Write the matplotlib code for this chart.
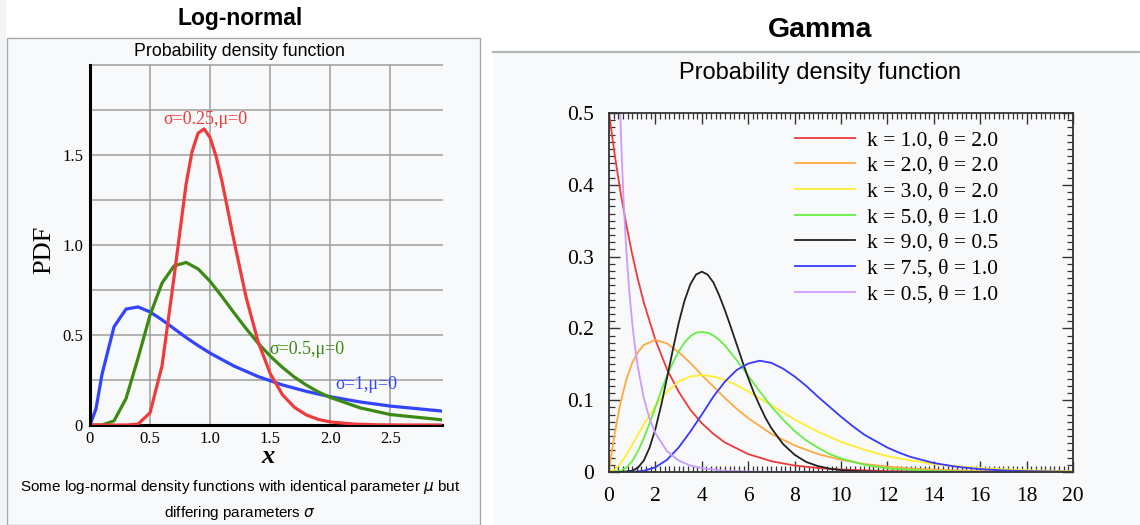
import matplotlib
matplotlib.use("Agg")
import matplotlib.pyplot as plt
from matplotlib.patches import Rectangle
from matplotlib.lines import Line2D
from matplotlib.ticker import MultipleLocator, FixedLocator

W, H = 1140, 525

# ---------------- Log-normal data ----------------
ln_x_s025 = [0, 0.3, 0.4, 0.5, 0.6, 0.7, 0.8, 0.85, 0.9, 0.95, 1.0, 1.05, 1.1, 1.2, 1.3, 1.4,
             1.5, 1.6, 1.7, 1.8, 1.9, 2.0, 2.2, 2.4, 2.6, 3.0]
ln_y_s025 = [0, 0.0, 0.005, 0.068, 0.330, 0.824, 1.339, 1.520, 1.622, 1.645, 1.596, 1.491, 1.349,
             1.019, 0.708, 0.461, 0.286, 0.170, 0.099, 0.056, 0.031, 0.017, 0.005, 0.001, 0.0, 0.0]
ln_x_s05 = [0, 0.1, 0.2, 0.3, 0.4, 0.5, 0.6, 0.7, 0.8, 0.9, 1.0, 1.1, 1.2, 1.3, 1.4, 1.5, 1.6,
            1.7, 1.8, 1.9, 2.0, 2.25, 2.5, 3.0]
ln_y_s05 = [0, 0.0, 0.023, 0.147, 0.372, 0.611, 0.789, 0.884, 0.903, 0.867, 0.798, 0.712, 0.622,
            0.535, 0.454, 0.383, 0.321, 0.267, 0.222, 0.184, 0.153, 0.095, 0.058, 0.024]
ln_x_s1 = [0, 0.05, 0.1, 0.2, 0.3, 0.4, 0.5, 0.6, 0.7, 0.8, 0.9, 1.0, 1.2, 1.4, 1.6, 1.8, 2.0,
           2.25, 2.5, 3.0]
ln_y_s1 = [0, 0.090, 0.282, 0.546, 0.644, 0.656, 0.628, 0.584, 0.535, 0.486, 0.441, 0.399, 0.327,
           0.269, 0.223, 0.187, 0.157, 0.128, 0.105, 0.073]
ln_labels = ["σ=0.25,μ=0", "σ=0.5,μ=0", "σ=1,μ=0"]
ln_xticks = [0, 0.5, 1.0, 1.5, 2.0, 2.5]
ln_xticklabels = ["0", "0.5", "1.0", "1.5", "2.0", "2.5"]
ln_yticks = [0, 0.5, 1.0, 1.5]
ln_yticklabels = ["0", "0.5", "1.0", "1.5"]

# ---------------- Gamma data ----------------
g_x_a = [0, 0.25, 0.5, 0.75, 1, 1.25, 1.5, 2, 2.5, 3, 3.5, 4, 4.5, 5, 6, 7, 8, 9, 10, 12, 14,
         16, 20]
g_y_a = [0.5, 0.441, 0.389, 0.344, 0.303, 0.268, 0.236, 0.184, 0.143, 0.112, 0.087, 0.068,
         0.053, 0.041, 0.025, 0.015, 0.009, 0.0056, 0.0034, 0.0012, 0.0005, 0.0002, 0.0]
g_x_b = [0, 0.1, 0.25, 0.5, 0.75, 1, 1.25, 1.5, 2, 2.5, 3, 3.5, 4, 4.5, 5, 5.5, 6, 7, 8, 9, 10,
         11, 12, 13, 14, 16, 18, 20]
g_y_b = [0, 0.024, 0.055, 0.097, 0.129, 0.152, 0.167, 0.177, 0.184, 0.179, 0.167, 0.152, 0.135,
         0.119, 0.103, 0.088, 0.075, 0.053, 0.037, 0.025, 0.017, 0.0112, 0.0074, 0.0049, 0.0032,
         0.0013, 0.0006, 0.0002]
g_x_c = [0, 0.25, 0.5, 0.75, 1, 1.25, 1.5, 2, 2.5, 3, 3.5, 4, 4.5, 5, 5.5, 6, 7, 8, 9, 10, 11,
         12, 13, 14, 16, 18, 20]
g_y_c = [0, 0.0034, 0.012, 0.024, 0.038, 0.052, 0.066, 0.092, 0.112, 0.126, 0.133, 0.135,
         0.133, 0.128, 0.121, 0.112, 0.093, 0.073, 0.056, 0.042, 0.031, 0.022, 0.016, 0.011,
         0.0054, 0.0025, 0.0011]
g_x_d = [0, 0.5, 0.75, 1, 1.25, 1.5, 1.75, 2, 2.25, 2.5, 2.75, 3, 3.25, 3.5, 3.75, 4, 4.25,
         4.5, 4.75, 5, 5.5, 6, 6.5, 7, 7.5, 8, 8.5, 9, 9.5, 10, 11, 12, 14, 16, 20]
g_y_d = [0, 0.0016, 0.0062, 0.015, 0.029, 0.047, 0.068, 0.090, 0.113, 0.134, 0.152, 0.168,
         0.180, 0.189, 0.194, 0.195, 0.194, 0.190, 0.184, 0.176, 0.156, 0.134, 0.112, 0.091,
         0.073, 0.057, 0.044, 0.034, 0.025, 0.019, 0.010, 0.005, 0.0013, 0.0003, 0.0]
g_x_e = [0, 0.5, 1, 1.25, 1.5, 1.75, 2, 2.25, 2.5, 2.75, 3, 3.25, 3.5, 3.75, 4, 4.25, 4.5,
         4.75, 5, 5.25, 5.5, 5.75, 6, 6.25, 6.5, 6.75, 7, 7.5, 8, 8.5, 9, 9.5, 10, 11, 12, 20]
g_y_e = [0, 0.0, 0.0017, 0.0062, 0.016, 0.034, 0.060, 0.093, 0.131, 0.170, 0.207, 0.238,
         0.261, 0.275, 0.279, 0.275, 0.264, 0.246, 0.225, 0.202, 0.178, 0.154, 0.131, 0.110,
         0.092, 0.075, 0.061, 0.039, 0.024, 0.014, 0.0083, 0.0047, 0.0026, 0.0008, 0.0002, 0.0]
g_x_f = [0, 1, 1.5, 2, 2.5, 3, 3.5, 4, 4.5, 5, 5.5, 6, 6.5, 7, 7.5, 8, 8.5, 9, 9.5, 10, 10.5,
         11, 11.5, 12, 12.5, 13, 14, 15, 16, 17, 18, 20]
g_y_f = [0, 0.0002, 0.0017, 0.0065, 0.017, 0.034, 0.056, 0.080, 0.105, 0.126, 0.142, 0.151,
         0.155, 0.152, 0.144, 0.133, 0.120, 0.105, 0.091, 0.077, 0.064, 0.052, 0.043, 0.034,
         0.027, 0.021, 0.0125, 0.0072, 0.0040, 0.0022, 0.0012, 0.0003]
g_x_g = [0.2, 0.3, 0.4, 0.45, 0.5, 0.55, 0.6, 0.65, 0.7, 0.75, 0.8, 0.9, 1, 1.1, 1.25, 1.5,
         1.75, 2, 2.5, 3, 3.5, 4, 5, 6, 8, 20]
g_y_g = [1.033, 0.763, 0.598, 0.536, 0.484, 0.439, 0.400, 0.365, 0.335, 0.308, 0.284, 0.242,
         0.208, 0.179, 0.145, 0.103, 0.074, 0.054, 0.029, 0.016, 0.0091, 0.0052, 0.0017,
         0.0006, 0.0001, 0.0]
g_labels = ["k = 1.0, θ = 2.0", "k = 2.0, θ = 2.0", "k = 3.0, θ = 2.0", "k = 5.0, θ = 1.0",
            "k = 9.0, θ = 0.5", "k = 7.5, θ = 1.0", "k = 0.5, θ = 1.0"]
g_colors = ["#ee3a3a", "#ffa940", "#ffee33", "#66ee44", "#222222", "#3838ff", "#c99cff"]
g_xticks = [0, 2, 4, 6, 8, 10, 12, 14, 16, 18, 20]
g_yticks = [0, 0.1, 0.2, 0.3, 0.4, 0.5]
g_yticklabels = ["0", "0.1", "0.2", "0.3", "0.4", "0.5"]


def fx(px):
    return px / W


def fy(py):
    return 1 - py / H


def rect(l, t, r, b):
    return [fx(l), fy(b), (r - l) / W, (b - t) / H]


fig = plt.figure(figsize=(W / 100, H / 100), dpi=100)
fig.patch.set_facecolor("white")

PANEL = "#f8f9fa"
BORDER = "#a2a9b1"
# left panel box
fig.patches.append(Rectangle((fx(0), 0), fx(6), 1, transform=fig.transFigure,
                             facecolor="#f3f4f5", edgecolor="none", zorder=-10))
fig.patches.append(Rectangle((fx(7), fy(525)), (480 - 7) / W, (525 - 38) / H,
                             transform=fig.transFigure, facecolor=PANEL,
                             edgecolor=BORDER, linewidth=1.0, zorder=-10))
# right panel background
fig.patches.append(Rectangle((fx(493), 0), 1 - fx(493), fy(52), transform=fig.transFigure,
                             facecolor=PANEL, edgecolor="none", zorder=-10))
fig.add_artist(Line2D([fx(493), 1], [fy(52), fy(52)], transform=fig.transFigure,
                      color="#b5b8bb", linewidth=1.6, zorder=-9))

sans = ["Liberation Sans", "DejaVu Sans"]
serif = ["Liberation Serif", "DejaVu Serif"]

fig.text(fx(240), fy(19), "Log-normal", ha="center", va="center", fontsize=16.5,
         fontweight="bold", family=sans)
fig.text(fx(239), fy(51), "Probability density function", ha="center", va="center",
         fontsize=12.8, family=sans)
fig.text(fx(820), fy(30), "Gamma", ha="center", va="center", fontsize=20.5,
         fontweight="bold", family=sans)
fig.text(fx(820), fy(73), "Probability density function", ha="center", va="center",
         fontsize=17, family=sans)
fig.text(fx(240), fy(487), "Some log-normal density functions with identical parameter $\\mu$ but",
         ha="center", va="center", fontsize=11, family=sans)
fig.text(fx(240), fy(513), "differing parameters $\\sigma$", ha="center", va="center",
         fontsize=11, family=sans)

# ---------------- Log-normal axes ----------------
ax1 = fig.add_axes(rect(90, 65, 442, 425))
ax1.set_facecolor("none")
ax1.set_xlim(0, 2.93)
ax1.set_ylim(0, 2.0)
ax1.plot(ln_x_s1, ln_y_s1, color="#3344ff", lw=2.3, zorder=3, solid_joinstyle="round")
ax1.plot(ln_x_s05, ln_y_s05, color="#3d8a12", lw=2.3, zorder=4, solid_joinstyle="round")
ax1.plot(ln_x_s025, ln_y_s025, color="#ee3b3b", lw=2.3, zorder=5, solid_joinstyle="round")
ax1.xaxis.set_major_locator(FixedLocator(ln_xticks))
ax1.set_xticklabels(ln_xticklabels)
ax1.yaxis.set_major_locator(FixedLocator(ln_yticks))
ax1.set_yticklabels(ln_yticklabels)
ax1.yaxis.set_minor_locator(FixedLocator([0.25, 0.75, 1.25, 1.75, 2.0]))
ax1.grid(True, which="both", axis="y", color="#9a9a9a", lw=1.4, alpha=0.75)
ax1.grid(True, which="major", axis="x", color="#9a9a9a", lw=1.4, alpha=0.75)
for t in ax1.yaxis.get_minor_ticks() + ax1.yaxis.get_major_ticks():
    t.gridline.set_clip_on(False)
ax1.tick_params(which="both", length=0, labelsize=12, pad=4)
ax1.tick_params(axis="y", pad=5)
for lab in ax1.get_xticklabels() + ax1.get_yticklabels():
    lab.set_family(serif)
ax1.spines["top"].set_visible(False)
ax1.spines["right"].set_visible(False)
ax1.spines["left"].set_linewidth(2.2)
ax1.spines["bottom"].set_linewidth(2.2)
ax1.spines["left"].set_zorder(6)
ax1.set_axisbelow(True)
ax1.set_ylabel("PDF", fontsize=19, family=serif)
ax1.yaxis.set_label_coords(-0.098, 0.486)
ax1.set_xlabel("x", fontsize=19, family=serif, fontstyle="italic", fontweight="bold")
ax1.xaxis.set_label_coords(0.506, -0.055)
ax1.text(0.96, 1.65, ln_labels[0], color="#ee3b3b", fontsize=13, family=serif,
         ha="center", va="bottom")
ax1.text(1.49, 0.42, ln_labels[1], color="#3d8a12", fontsize=13, family=serif,
         ha="left", va="center")
ax1.text(2.04, 0.225, ln_labels[2], color="#3344ff", fontsize=13, family=serif,
         ha="left", va="center")

# ---------------- Gamma axes ----------------
ax2 = fig.add_axes(rect(609, 113, 1073, 472))
ax2.set_facecolor("none")
ax2.set_xlim(0, 20)
ax2.set_ylim(0, 0.5)
series = [(g_x_a, g_y_a), (g_x_b, g_y_b), (g_x_c, g_y_c), (g_x_d, g_y_d),
          (g_x_e, g_y_e), (g_x_f, g_y_f), (g_x_g, g_y_g)]
for (xs, ys), c, lab in zip(series, g_colors, g_labels):
    ax2.plot(xs, ys, color=c, lw=1.3, label=lab)
ax2.xaxis.set_major_locator(FixedLocator(g_xticks))
ax2.xaxis.set_minor_locator(MultipleLocator(0.2))
ax2.yaxis.set_major_locator(FixedLocator(g_yticks))
ax2.set_yticklabels(g_yticklabels)
ax2.yaxis.set_minor_locator(MultipleLocator(0.01))
ax2.tick_params(which="both", direction="in", top=True, right=True, color="#333333")
ax2.tick_params(which="major", length=8, width=1.0, labelsize=15.5, pad=11)
ax2.tick_params(which="minor", length=4, width=0.9)
for lab in ax2.get_xticklabels() + ax2.get_yticklabels():
    lab.set_family(serif)
for s in ax2.spines.values():
    s.set_linewidth(1.3)
    s.set_color("#333333")
leg = ax2.legend(loc="upper left", bbox_to_anchor=((795 - 609) / 464, (472 - 130) / 359),
                 frameon=False, borderpad=0, borderaxespad=0, handlelength=2.8,
                 handletextpad=0.55, labelspacing=0.26, prop={"family": serif, "size": 15.5})

fig.savefig("out.png", dpi=100)
